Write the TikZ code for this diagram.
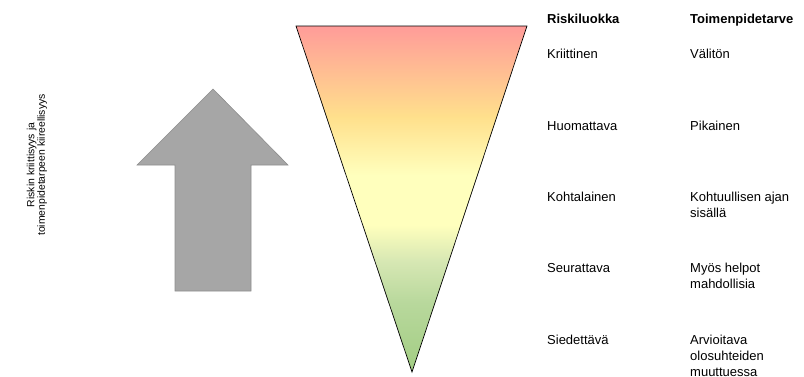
\documentclass[tikz,border=0pt]{standalone}
\usepackage{fontspec}
\setmainfont{Liberation Sans}
\definecolor{cA}{HTML}{FF9B99}
\definecolor{cB}{HTML}{FFE08C}
\definecolor{cC}{HTML}{FFFFBD}
\definecolor{cD}{HTML}{D6E7B3}
\definecolor{cE}{HTML}{B8D89C}
\definecolor{cF}{HTML}{A2CD83}
\definecolor{arrowgray}{HTML}{A6A6A6}
\newcommand{\toplines}[1]{\begin{tabular}[t]{@{}l@{}}#1\end{tabular}}
\begin{document}
\begin{tikzpicture}[x=1pt,y=-1pt,
  lbl/.style={anchor=base west,inner sep=0pt,font=\fontsize{13}{16}\selectfont},
  hdr/.style={lbl,font=\fontsize{13}{16}\selectfont\bfseries},
  vtxt/.style={rotate=90,align=center,inner sep=0pt,font=\fontsize{10.4}{10.5}\selectfont}]
\useasboundingbox (0,0) rectangle (804,376);
\clip (0,0) rectangle (804,376);
% arrow
\draw[fill=arrowgray,draw=arrowgray!85!black,line width=0.6pt]
  (213,89) -- (288,165) -- (251,165) -- (251,291) -- (175,291) -- (175,165) -- (137,165) -- cycle;
% triangle with gradient
\begin{scope}
  \clip (296,26) -- (527,26) -- (412,372) -- cycle;
  \shade[top color=cA,bottom color=cB] (290,25) rectangle (530,117);
  \shade[top color=cB,bottom color=cC] (290,117) rectangle (530,175);
  \fill[cC] (290,175) rectangle (530,225);
  \shade[top color=cC,bottom color=cD] (290,225) rectangle (530,262);
  \shade[top color=cD,bottom color=cE] (290,262) rectangle (530,303);
  \shade[top color=cE,bottom color=cF] (290,303) rectangle (530,373);
\end{scope}
\draw[line width=0.7pt,line join=miter] (296,26) -- (527,26) -- (412,372) -- cycle;
% vertical label
\node[vtxt] (axis) at (37,165) {Riskin kriittisyys ja\\toimenpidetarpeen kiireellisyys};
% table
\node[hdr] (h1) at (547,23) {Riskiluokka};
\node[hdr] (h2) at (690,23) {Toimenpidetarve};
\node[lbl] (r1) at (547,58) {Kriittinen};
\node[lbl] (a1) at (690,58) {Välitön};
\node[lbl] (r2) at (547,130) {Huomattava};
\node[lbl] (a2) at (690,130) {Pikainen};
\node[lbl] (r3) at (547,201) {Kohtalainen};
\node[lbl] (a3) at (690,201) {\toplines{Kohtuullisen ajan\\sisällä}};
\node[lbl] (r4) at (547,272) {Seurattava};
\node[lbl] (a4) at (690,272) {\toplines{Myös helpot\\mahdollisia}};
\node[lbl] (r5) at (547,344) {Siedettävä};
\node[lbl] (a5) at (690,344) {\toplines{Arvioitava\\olosuhteiden\\muuttuessa}};
\end{tikzpicture}
\end{document}
